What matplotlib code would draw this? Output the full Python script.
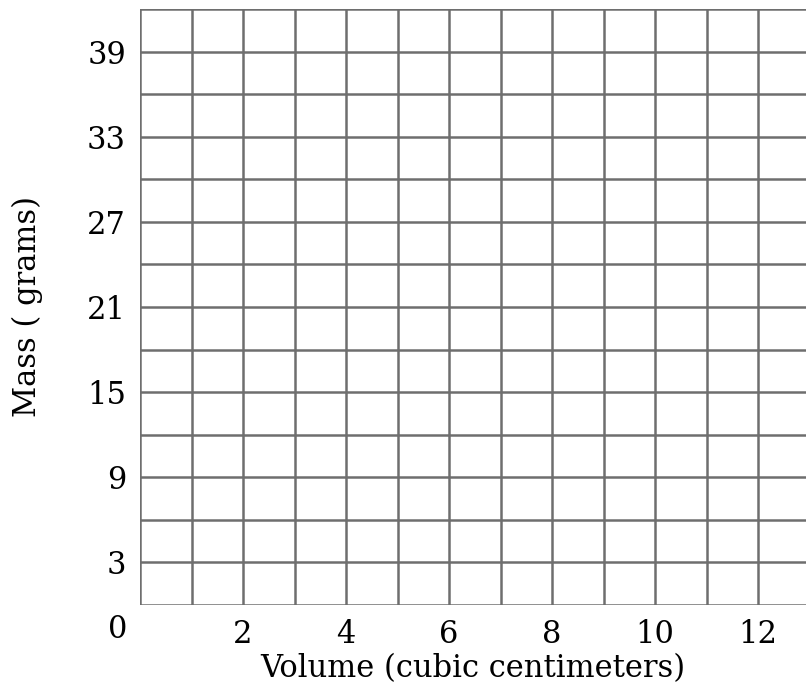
# blank mass vs volume grid
import matplotlib
matplotlib.use("Agg")
import matplotlib.pyplot as plt
import numpy as np

# axis ranges and ticks
x_max = 12.93
y_max = 42
x_grid = np.arange(0, 13, 1)
y_grid = np.arange(0, 43, 3)
x_ticks = [2, 4, 6, 8, 10, 12]
y_ticks = [3, 9, 15, 21, 27, 33, 39]
x_label = "Volume (cubic centimeters)"
y_label = "Mass ( grams)"

plt.rcParams["font.family"] = ["DejaVu Serif"]
grid_col = "#6e6e6e"
fs = 22

fig = plt.figure(figsize=(8.06, 6.85), dpi=100)
ax = fig.add_axes([0.1737, 0.1168, 1 - 0.1737, 0.9869 - 0.1168])
ax.set_xlim(0, x_max)
ax.set_ylim(0, y_max)

# grid lines
for x in x_grid:
	ax.axvline(x, color=grid_col, lw=1.8, zorder=1)
for y in y_grid:
	ax.axhline(y, color=grid_col, lw=1.8, zorder=1)

ax.set_xticks(x_ticks)
ax.set_yticks(y_ticks)
ax.tick_params(length=0, labelsize=fs, pad=10)
for s in ax.spines.values():
	s.set_visible(False)

# shared origin label
ax.text(-0.25, -0.6, "0", ha="right", va="top", fontsize=fs,
	transform=ax.transData)

ax.set_xlabel(x_label, fontsize=fs, labelpad=2)
ax.set_ylabel(y_label, fontsize=fs, labelpad=32)

fig.savefig("out.png", dpi=100)
